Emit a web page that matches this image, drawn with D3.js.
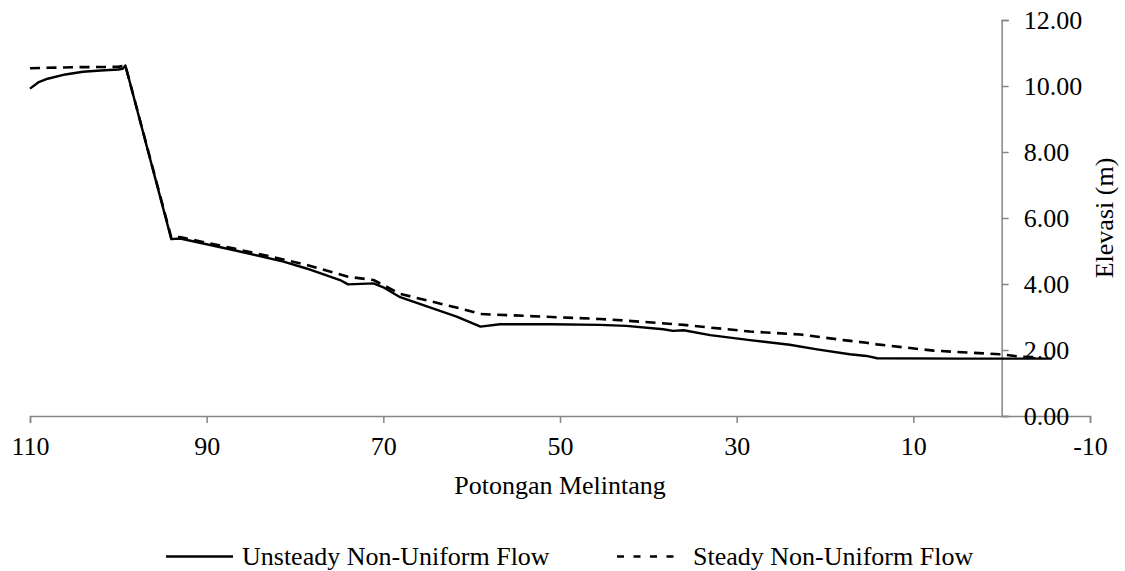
<!DOCTYPE html>
<html>
<head>
<meta charset="utf-8">
<script src="https://cdn.jsdelivr.net/npm/d3@7/dist/d3.min.js"></script>
</head>
<body style="margin:0;background:#fff">
<svg id="chart" width="1125" height="571" style="display:block" font-family="Liberation Serif"></svg>
<script>
// Cross-section stations and water surface elevations (m)
const unsteadyStation = [110, 109, 108, 106, 104, 102, 100, 99.5, 99.2, 94.0, 93.0, 87.0, 81.3, 78.7, 74.9, 74.0, 71.1, 70.0, 68.1, 61.7, 59.0, 56.8, 51.1, 45.5, 42.5, 38.3, 37.2, 36.0, 33.0, 28.5, 24.0, 20.9, 17.2, 15.3, 14.1, 5.0, -5.7];
const unsteadyElev    = [9.92, 10.12, 10.22, 10.35, 10.43, 10.47, 10.50, 10.52, 10.62, 5.36, 5.38, 5.03, 4.68, 4.47, 4.12, 3.99, 4.02, 3.90, 3.60, 3.01, 2.71, 2.78, 2.78, 2.76, 2.73, 2.63, 2.58, 2.60, 2.45, 2.30, 2.16, 2.02, 1.87, 1.82, 1.75, 1.74, 1.74];

const steadyStation = [110, 105, 100, 99.2, 94.0, 93.0, 87.0, 80.9, 78.7, 74.0, 71.1, 68.1, 61.3, 59.0, 45.5, 42.5, 36.0, 28.5, 22.8, 17.9, 15.3, 14.1, 7.7, 0.2, -2.1, -4.0];
const steadyElev    = [10.54, 10.57, 10.58, 10.62, 5.40, 5.42, 5.08, 4.72, 4.58, 4.22, 4.12, 3.70, 3.26, 3.09, 2.94, 2.89, 2.76, 2.56, 2.47, 2.30, 2.22, 2.17, 1.98, 1.87, 1.80, 1.78];

const xTicks = [110, 90, 70, 50, 30, 10, -10];
const yTicks = [0, 2, 4, 6, 8, 10, 12];

const seriesNames = ["Unsteady Non-Uniform Flow", "Steady Non-Uniform Flow"];

const svg = d3.select("#chart");
const axisColor = "#868686";
const fontSize = 26;
const serif = '"Liberation Serif"';

const x = d3.scaleLinear().domain([110, -10]).range([30, 1090]);
const y = d3.scaleLinear().domain([0, 12]).range([416, 20]);

// X axis along elevation 0
const gx = svg.append("g").attr("transform", `translate(0,${y(0)})`)
  .call(d3.axisBottom(x).tickValues(xTicks).tickSize(7).tickPadding(14).tickFormat(d => String(d)));
gx.select(".domain").attr("stroke", axisColor).attr("stroke-width", 1.5);
gx.selectAll(".tick line").attr("stroke", axisColor).attr("stroke-width", 1.5);

// Y axis at station 0, ticks and labels to the right
const gy = svg.append("g").attr("transform", `translate(${x(0)},0)`)
  .call(d3.axisRight(y).tickValues(yTicks).tickSize(7).tickPadding(15).tickFormat(d3.format(".2f")));
gy.select(".domain").attr("stroke", axisColor).attr("stroke-width", 1.5);
gy.selectAll(".tick line").attr("stroke", axisColor).attr("stroke-width", 1.5);

gx.attr("font-family", null);
gy.attr("font-family", null);
svg.selectAll(".tick text").attr("fill", "#000").attr("font-size", fontSize);

// Axis titles
svg.append("text").attr("x", (x.range()[0] + x.range()[1]) / 2).attr("y", 494)
  .attr("text-anchor", "middle").attr("font-size", fontSize).text("Potongan Melintang");
svg.append("text")
  .attr("transform", `translate(1113,${(y.range()[0] + y.range()[1]) / 2}) rotate(-90)`)
  .attr("text-anchor", "middle").attr("font-size", fontSize).text("Elevasi (m)");

// Profiles
const line = d3.line().x(d => x(d[0])).y(d => y(d[1]));
const unsteady = d3.zip(unsteadyStation, unsteadyElev);
const steady = d3.zip(steadyStation, steadyElev);

svg.append("path").datum(steady).attr("d", line)
  .attr("fill", "none").attr("stroke", "#000").attr("stroke-width", 2.6)
  .attr("stroke-dasharray", "10,6.5");
svg.append("path").datum(unsteady).attr("d", line)
  .attr("fill", "none").attr("stroke", "#000").attr("stroke-width", 2.4)
  .attr("stroke-linejoin", "round");

// Legend
const legend = svg.append("g");
legend.append("line").attr("x1", 166).attr("x2", 233).attr("y1", 556.5).attr("y2", 556.5)
  .attr("stroke", "#000").attr("stroke-width", 2.6);
legend.append("text").attr("x", 242).attr("y", 564.5).attr("font-size", fontSize).text(seriesNames[0]);
legend.append("line").attr("x1", 617).attr("x2", 681).attr("y1", 556.5).attr("y2", 556.5)
  .attr("stroke", "#000").attr("stroke-width", 2.6).attr("stroke-dasharray", "7,9.5");
legend.append("text").attr("x", 693).attr("y", 564.5).attr("font-size", fontSize).text(seriesNames[1]);

// Serif face on every label
svg.selectAll("text").attr("font-family", "Liberation Serif").style("font-family", serif);
</script>
</body>
</html>
